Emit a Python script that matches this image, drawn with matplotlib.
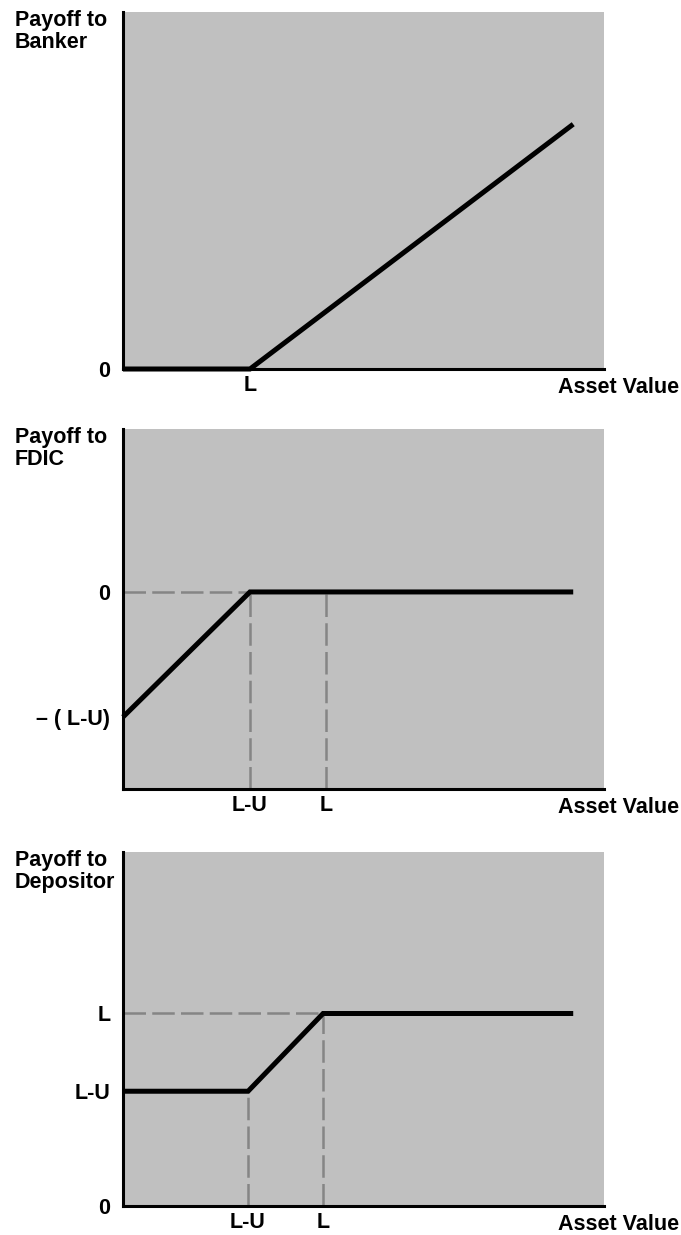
import matplotlib
matplotlib.use("Agg")
import matplotlib.pyplot as plt
import matplotlib.transforms as mtrans

W, H = 681, 1235
plt.rcParams['font.family'] = ['Liberation Sans', 'DejaVu Sans']
plt.rcParams['font.weight'] = 'bold'

# ---- data ----
banker_asset = [0, 2.64, 9.36]
banker_payoff = [0, 0, 6.72]
banker_xticks = [2.64]
banker_xlabels = ['L']
banker_yticks = [0]
banker_ylabels = ['0']

fdic_asset = [0, 2.64, 9.36]
fdic_payoff = [-2.64, 0, 0]
fdic_xticks = [2.64, 4.22]
fdic_xlabels = ['L-U', 'L']
fdic_yticks = [0, -2.64]
fdic_ylabels = ['0', '\u2013 ( L-U)']

dep_asset = [0, 2.6, 4.16, 9.36]
dep_payoff = [2.48, 2.48, 4.16, 4.16]
dep_xticks = [2.6, 4.16]
dep_xlabels = ['L-U', 'L']
dep_yticks = [0, 2.48, 4.16]
dep_ylabels = ['0', 'L-U', 'L']

titles = ['Payoff to\nBanker', 'Payoff to\nFDIC', 'Payoff to\nDepositor']

fig = plt.figure(figsize=(W / 100, H / 100), dpi=100)
BG = '#c0c0c0'
DASH = '#858585'
FS = 15.5
XPAD = 4.5


def add_ax(left, top, right, bottom):
    return fig.add_axes([left / W, 1 - bottom / H, (right - left) / W, (bottom - top) / H])


def style(ax, xticks, xlabels, yticks, ylabels, ylim, top_px, title):
    ax.set_facecolor(BG)
    ax.set_xlim(0, 10)
    ax.set_ylim(*ylim)
    for s in ['top', 'right']:
        ax.spines[s].set_visible(False)
    for s in ['left', 'bottom']:
        ax.spines[s].set_linewidth(2.2)
        ax.spines[s].set_color('black')
    ax.set_xticks(xticks, xlabels)
    ax.set_yticks(yticks, ylabels)
    ax.tick_params(axis='x', length=0, pad=XPAD, labelsize=FS)
    ax.tick_params(axis='y', length=0, pad=9, labelsize=FS)
    for t in ax.get_xticklabels() + ax.get_yticklabels():
        t.set_fontweight('bold')
    fig.text(15 / W, 1 - top_px / H, title, ha='left', va='top', fontsize=FS,
             fontweight='bold', linespacing=1.05)


def asset_label(ax):
    tr = mtrans.blended_transform_factory(fig.transFigure, ax.transAxes) + \
        mtrans.ScaledTranslation(0, -(XPAD + 1) / 72, fig.dpi_scale_trans)
    ax.text(679 / W, 0.0, 'Asset Value', transform=tr,
            ha='right', va='top', fontsize=FS, fontweight='bold')


dash_kw = dict(color=DASH, lw=1.8, linestyle=(0, (9, 2.5)), zorder=2)
line_kw = dict(color='black', lw=3.6, solid_capstyle='butt', solid_joinstyle='miter', zorder=3, clip_on=False)

# Panel 1: Banker
ax1 = add_ax(123, 12, 604, 369)
style(ax1, banker_xticks, banker_xlabels, banker_yticks, banker_ylabels, (0, 9.8), 10, titles[0])
ax1.plot(banker_asset, banker_payoff, **line_kw)
asset_label(ax1)

# Panel 2: FDIC
ax2 = add_ax(123, 429, 604, 789)
style(ax2, fdic_xticks, fdic_xlabels, fdic_yticks, fdic_ylabels, (-4.16, 3.44), 427, titles[1])
ax2.plot([0, fdic_asset[1]], [fdic_payoff[1], fdic_payoff[1]], **dash_kw)
ax2.plot([fdic_xticks[0], fdic_xticks[0]], [-4.16, fdic_payoff[1]], **dash_kw)
ax2.plot([fdic_xticks[1], fdic_xticks[1]], [-4.16, fdic_payoff[2]], **dash_kw)
ax2.plot(fdic_asset, fdic_payoff, **line_kw)
asset_label(ax2)

# Panel 3: Depositor
ax3 = add_ax(123, 852, 604, 1206)
style(ax3, dep_xticks, dep_xlabels, dep_yticks, dep_ylabels, (0, 7.65), 850, titles[2])
ax3.plot([0, dep_asset[2]], [dep_payoff[2], dep_payoff[2]], **dash_kw)
ax3.plot([dep_asset[1], dep_asset[1]], [0, dep_payoff[1]], **dash_kw)
ax3.plot([dep_asset[2], dep_asset[2]], [0, dep_payoff[2]], **dash_kw)
ax3.plot(dep_asset, dep_payoff, **line_kw)
asset_label(ax3)

fig.savefig('out.png', dpi=100, facecolor='white')
